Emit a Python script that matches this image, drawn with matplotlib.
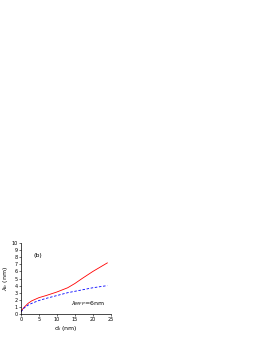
import matplotlib
matplotlib.use("Agg")
import matplotlib.pyplot as plt

x_red = [0, 0.5, 1, 2, 3, 5, 7, 10, 13, 15, 17, 20, 22, 24]
y_red = [0.3, 0.7, 1.0, 1.5, 1.85, 2.3, 2.6, 3.1, 3.7, 4.3, 5.0, 6.0, 6.6, 7.2]
x_blue = [0, 0.5, 1, 2, 3, 5, 7, 10, 13, 15, 17, 20, 22, 24]
y_blue = [0.3, 0.6, 0.9, 1.25, 1.5, 1.9, 2.2, 2.6, 3.0, 3.2, 3.4, 3.7, 3.85, 4.0]

fig = plt.figure(figsize=(2.61, 3.38), dpi=100)
ax = fig.add_axes([0.080, 0.071, 0.345, 0.210])
ax.plot(x_red, y_red, color="red", lw=0.6)
ax.plot(x_blue, y_blue, color="blue", lw=0.6, ls=(0, (3, 2)))
ax.set_xlim(0, 25)
ax.set_ylim(0, 10)
ax.set_xticks([0, 5, 10, 15, 20, 25])
ax.set_yticks(range(0, 11))
ax.tick_params(labelsize=3.5, length=1.5, width=0.4, pad=1)
for s in ax.spines.values():
    s.set_linewidth(0.5)
ax.spines["top"].set_visible(False)
ax.spines["right"].set_visible(False)
ax.set_xlabel(r"d$_{i}$ (nm)", fontsize=4.5, labelpad=1)
ax.set_ylabel(r"$\lambda_{b}$ (nm)", fontsize=4.5, labelpad=1)
ax.text(3.5, 8.0, "(b)", fontsize=4.5)
ax.text(14, 1.2, r"$\lambda_{MFP}$=6nm", fontsize=4.5)
fig.savefig("out.png", dpi=100)
